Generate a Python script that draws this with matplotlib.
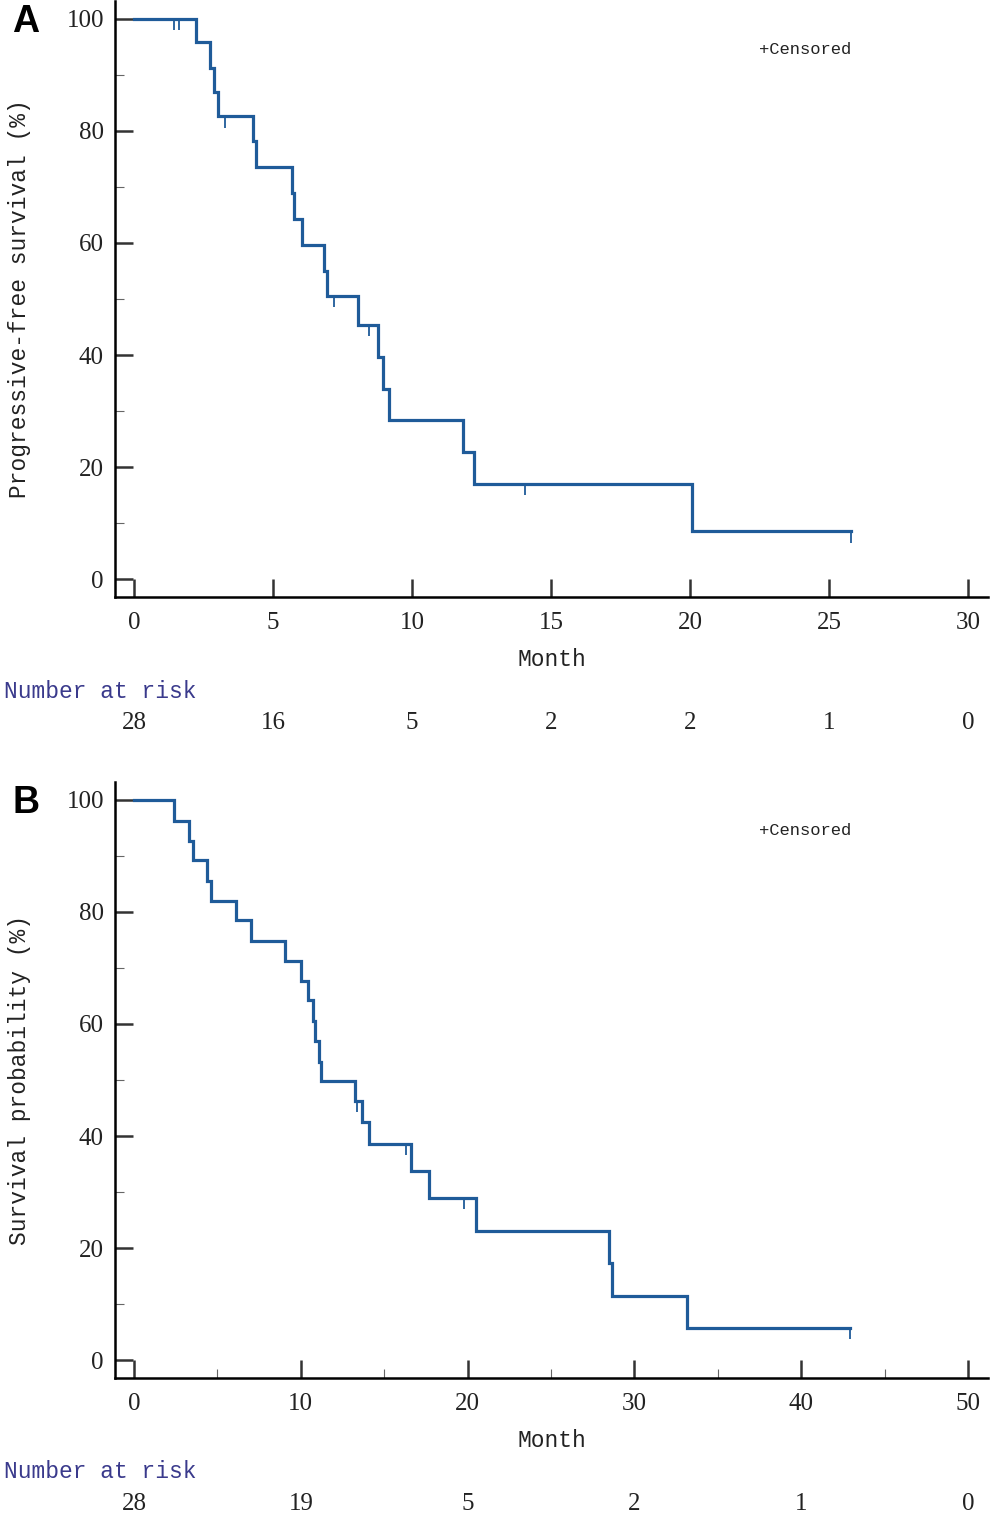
import numpy as np
import matplotlib
matplotlib.use("Agg")
from matplotlib import pyplot as plt

# panel A: progression-free survival
a_times = [2.22, 2.75, 2.88, 3.03, 4.29, 4.38, 5.69, 5.74, 6.04, 6.83, 6.93,
           8.05, 8.79, 8.97, 9.16, 11.83, 12.23, 20.07]
a_surv = [95.8, 91.2, 86.9, 82.6, 78.2, 73.6, 68.9, 64.2, 59.6, 55.0, 50.6,
          45.4, 39.7, 34.0, 28.4, 22.6, 17.0, 8.5]
a_censor = [1.44, 1.62, 3.29, 7.2, 8.45, 14.06, 25.8]
a_end = 25.8
a_ticks = [0, 5, 10, 15, 20, 25, 30]
a_risk = [28, 16, 5, 2, 2, 1, 0]

# panel B: overall survival
b_times = [2.40, 3.32, 3.52, 4.36, 4.60, 6.12, 6.99, 9.07, 10.03, 10.43, 10.75,
           10.83, 11.07, 11.19, 13.25, 13.65, 14.1, 16.62, 17.67, 20.5, 28.5,
           28.68, 33.15]
b_surv = [96.3, 92.7, 89.2, 85.6, 82.0, 78.5, 74.9, 71.3, 67.7, 64.2, 60.6,
          57.0, 53.3, 49.8, 46.25, 42.5, 38.6, 33.75, 28.9, 23.0, 17.3,
          11.4, 5.7]
b_censor = [13.37, 16.3, 19.77, 42.95]
b_end = 42.95
b_ticks = [0, 10, 20, 30, 40, 50]
b_risk = [28, 19, 5, 2, 1, 0]

y_ticks = [0, 20, 40, 60, 80, 100]

LINE = "#1f5b99"
MONO = "Liberation Mono"
SERIF = "Liberation Serif"

W, H = 993, 1516
fig = plt.figure(figsize=(W / 100, H / 100), dpi=100)


def fx(px):
    return px / W


def fy(py):
    return 1 - py / H


def step_xy(times, surv, end):
    xs = [0]
    ys = [100]
    last = 100
    for t, s in zip(times, surv):
        xs += [t, t]
        ys += [last, s]
        last = s
    xs.append(end)
    ys.append(last)
    return np.array(xs), np.array(ys)


def surv_at(times, surv, t):
    v = 100
    for tt, s in zip(times, surv):
        if tt <= t:
            v = s
    return v


def panel(top_px, times, surv, censor, end, xticks, minor, risk, ylabel, letter):
    ax_w = fx(988) - fx(115)
    ax = fig.add_axes([fx(115), fy(top_px + 596), ax_w, 596 / H])
    xs, ys = step_xy(times, surv, end)
    ax.plot(xs, ys, color=LINE, lw=2.3, solid_joinstyle="miter", zorder=3)
    cy = [surv_at(times, surv, c) for c in censor]
    ax.vlines(censor, np.array(cy) - 2.0, cy, color=LINE, lw=1.3, zorder=3)

    xmax = xticks[-1]
    unit = xmax / 834.0
    ax.set_xlim(-19 * unit, xmax + 20 * unit)
    ax.set_ylim(-3.2, 103.2)

    for s in ["top", "right"]:
        ax.spines[s].set_visible(False)
    for s in ["left", "bottom"]:
        ax.spines[s].set_linewidth(1.8)
        ax.spines[s].set_color("black")

    ax.set_xticks(xticks)
    ax.set_yticks(y_ticks)
    ax.set_yticks([10, 30, 50, 70, 90], minor=True)
    if minor:
        ax.set_xticks(minor, minor=True)
    ax.tick_params(which="major", direction="in", length=13, width=1.8,
                   color="#333333", labelsize=18, labelcolor="#222222")
    ax.tick_params(which="minor", direction="in", length=6.5, width=0.8,
                   color="#666666")
    ax.tick_params(axis="x", which="major", pad=11)
    ax.tick_params(axis="y", which="major", pad=8)
    for lab in ax.get_xticklabels() + ax.get_yticklabels():
        lab.set_fontfamily(SERIF)

    ax.set_xlabel("Month", fontfamily=MONO, fontsize=16.5, color="#222222",
                  labelpad=10)
    ax.set_ylabel(ylabel, fontfamily=MONO, fontsize=16.5, color="#222222")
    ax.yaxis.set_label_coords((fx(31) - fx(115)) / ax_w, 0.5)

    ax.text(0.79, 0.919, "+Censored", transform=ax.transAxes, ha="center",
            va="center", fontfamily=MONO, fontsize=12.3, color="#222222")

    fig.text(fx(26), fy(top_px + 21), letter, ha="center", va="center",
             fontfamily="Liberation Sans", fontweight="bold", fontsize=27)

    fig.text(fx(4), fy(top_px + 690), "Number at risk", ha="left",
             va="center", fontfamily=MONO, fontsize=16.5, color="#3a3a8c")
    for t, n in zip(xticks, risk):
        px = 134 + t / unit
        fig.text(fx(px), fy(top_px + 722), str(n), ha="center", va="center",
                 fontfamily=SERIF, fontsize=18, color="#222222")
    return ax


panel(1, a_times, a_surv, a_censor, a_end, a_ticks, None, a_risk,
      "Progressive-free survival (%)", "A")
panel(782, b_times, b_surv, b_censor, b_end, b_ticks, [5, 15, 25, 35, 45],
      b_risk, "Survival probability (%)", "B")

fig.savefig("out.png", dpi=100)
